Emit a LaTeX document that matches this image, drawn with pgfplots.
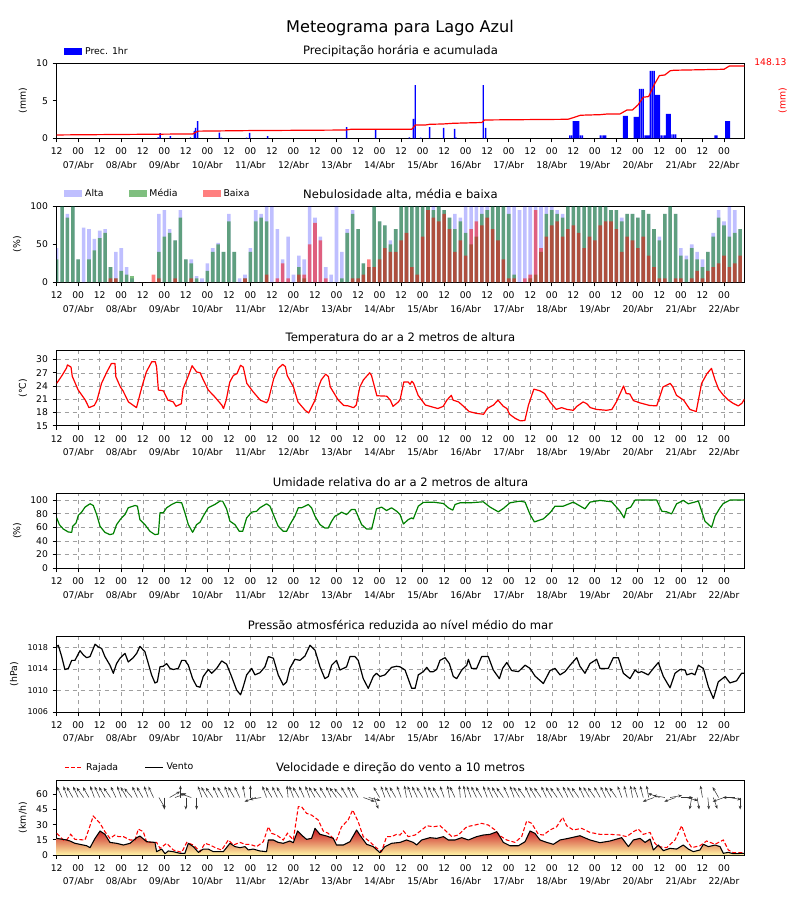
\documentclass[border=0pt]{standalone}
\usepackage{fontspec}
\setmainfont{DejaVu Sans}
\usepackage{pgfplots}
\usepackage{pgfplotstable}
\pgfplotsset{compat=1.18}
\usetikzlibrary{arrows.meta}

\definecolor{mgreen}{rgb}{0,0.5,0}
\newcommand{\tfont}{\fontsize{6.9}{10.1}\selectfont}
\newcommand{\lfont}{\fontsize{7}{8}\selectfont}

\pgfplotsset{
  meteo/.style={
    scale only axis, width=515.7pt, height=56.25pt,
    anchor=south west,
    xmin=0, xmax=383.3,
    xtick={0,12,...,372},
    xticklabels={12,{00\\07/Abr},12,{00\\08/Abr},12,{00\\09/Abr},12,{00\\10/Abr},
      12,{00\\11/Abr},12,{00\\12/Abr},12,{00\\13/Abr},12,{00\\14/Abr},
      12,{00\\15/Abr},12,{00\\16/Abr},12,{00\\17/Abr},12,{00\\18/Abr},
      12,{00\\19/Abr},12,{00\\20/Abr},12,{00\\21/Abr},12,{00\\22/Abr}},
    tick pos=left, tick align=outside,
    major tick length=3pt,
    axis line style={line width=0.6pt},
    every tick/.style={black, line width=0.6pt},
    tick label style={font=\tfont},
    xticklabel style={align=center, anchor=north, inner sep=1.5pt, yshift=-2.5pt},
    label style={font=\lfont},
    title style={font=\fontsize{8.7}{10}\selectfont, yshift=-4.5pt},
    /pgf/number format/assume math mode=true,
    /pgf/number format/1000 sep={},
    legend style={draw=none, fill=none, font=\lfont,
      at={(axis description cs:0.009,1.0)}, anchor=south west,
      inner sep=1pt, yshift=2pt},
  },
  gridded/.style={grid=major, grid style={dashed, gray!75, line width=0.4pt}},
  rectleg/.style={legend image code/.code={\fill[##1] (0pt,-2.6pt) rectangle (13.5pt,2.6pt);}},
  lineleg/.style={legend image code/.code={\draw[##1] (0pt,0pt) -- (13.5pt,0pt);}},
}

% precipitacao horaria (mm)
\pgfplotstableread{
h mm
56.6 0.13
57.7 0.67
63.4 0.3
74.6 0.13
76.7 0.98
77.4 1.38
78.6 2.3
90.7 0.76
91.8 0.1
105.9 0.1
107.6 0.71
117.6 0.3
161.6 1.5
177.8 1.2
196.6 0.13
198.8 2.58
199.9 7.1
202.9 0.1
207.9 1.47
215.7 1.38
221.8 1.24
222.7 0.1
237.8 7.1
239.1 1.38
286 0.4
287 0.4
288 2.3
289 2.3
290 2.3
291 2.3
292 0.4
293 0.4
303 0.4
304 0.4
305 0.4
306 0.4
316 2.98
317 2.98
318 2.98
322 2.84
323 2.84
324 2.84
325 6.58
326 6.58
327 6.58
328 0.4
329 0.4
330 0.4
331 8.98
332 8.98
333 8.98
334 5.78
335 5.78
336 5.78
337 0.4
338 0.4
339 0.4
340 3.24
341 3.24
342 3.24
343 0.53
344 0.53
345 0.53
367 0.4
368 0.4
373 2.3
374 2.3
375 2.3
}\prec

% precipitacao acumulada (mm)
\pgfplotstableread{
h acc
0 6.8
76 8.9
77 11.5
79 14.6
106 15.7
161 16.9
164 18.4
198 18.4
200 27.4
206 27.4
208 28.7
215 29.2
221 30.7
237 32.3
238.5 37.5
285 38.9
288 42.3
292 47.2
303 48.4
307 49.8
314 49.8
318 58.1
321 58.1
324 68.2
327 84.1
330 85.5
333 109.1
336 128.5
339 129.7
342 138.3
344 139.4
372 141.4
375 148.13
383.3 148.13
}\acum

% nebulosidade (%)
\pgfplotstableread{
h A M B
0 45 30 0
3 100 100 0
6 90 85 0
9 100 100 0
12 30 30 0
15 72 0 0
18 70 30 0
21 57 42 0
24 68 58 0
27 70 65 0
30 20 20 5
33 40 5 5
36 45 15 0
39 20 10 0
42 5 8 0
45 0 0 0
48 0 0 0
51 0 0 0
54 0 0 10
57 90 40 5
60 95 60 0
63 70 65 0
66 55 55 5
69 95 85 0
72 30 30 0
75 30 25 5
78 8 5 0
81 5 0 0
84 25 15 0
87 45 40 0
90 52 50 0
93 40 40 0
96 90 80 0
99 40 40 0
102 5 0 0
105 10 5 5
108 45 40 0
111 95 80 0
114 90 85 0
117 100 80 10
120 100 0 0
123 70 0 5
126 30 0 25
129 60 0 5
132 10 0 0
135 35 20 10
138 30 5 10
141 100 0 50
144 85 0 78
147 60 0 55
150 20 0 5
153 10 0 0
156 100 0 0
159 40 5 0
162 70 65 0
165 95 90 5
168 70 70 5
171 25 25 10
174 20 20 30
177 100 100 20
180 80 80 30
183 75 75 45
186 55 50 40
189 70 70 40
192 100 100 55
195 100 100 65
198 100 100 20
201 100 100 10
204 100 100 60
207 100 100 95
210 100 95 85
213 100 100 80
216 95 95 90
219 85 85 70
222 90 70 40
225 85 80 55
228 100 65 35
231 100 50 70
234 100 60 80
237 100 90 75
240 100 95 85
243 100 100 70
246 100 100 55
249 100 100 30
252 100 90 5
255 100 10 5
258 95 0 0
261 100 0 5
264 100 5 10
267 100 10 95
270 100 40 45
273 100 90 60
276 100 95 75
279 95 90 80
282 90 85 60
285 100 100 70
288 100 100 75
291 100 100 65
294 100 100 45
297 100 100 60
300 100 100 55
303 100 100 75
306 100 100 80
309 95 95 80
312 95 95 70
315 85 80 40
318 90 90 60
321 90 90 55
324 85 85 45
327 95 95 60
330 90 90 35
333 70 70 20
336 60 55 5
339 90 90 5
342 100 100 0
345 90 90 5
348 45 35 5
351 35 30 0
354 50 45 5
357 40 30 15
360 30 20 5
363 40 40 15
366 65 60 20
369 95 85 25
372 80 75 35
375 100 60 20
378 95 65 25
381 70 70 35
}\cloud

% temperatura (C)
\pgfplotstableread{
h T
0 24.6
3 26.4
5.5 28.1
6 28.8
8 28.3
8.7 26.2
12 23.1
16 20.8
18 19.1
21 19.6
22.5 20.8
25 24.6
28 27.2
30.5 29.1
32.5 29.1
33 26.1
35.5 23.8
37 22.9
40 20.4
44.5 19.1
47.5 23.8
50 27.2
53 29.5
55 29.5
55.7 28.3
56.7 23.1
59.5 22.9
62 20.8
65 20.4
66.5 19.4
69.5 20.0
70.5 23.4
73.5 26.4
75.5 28.6
78 27.2
80 27.0
81.5 25.6
84.5 23.1
88 21.6
92 19.7
93 18.9
94.5 20.8
96.5 24.9
98.5 26.4
100.5 26.8
102.5 28.7
104 28.3
106 24.6
109.5 22.7
113.5 20.8
117 20.2
118 20.8
121 25.7
123.5 28.0
126 28.9
127.5 28.4
128.5 26.4
132 23.8
134.5 20.4
138.5 18.5
140.5 17.9
144 20.8
146 23.8
147.5 25.4
150 26.7
151.5 26.1
152.5 23.8
157 20.8
160 19.6
162.5 19.5
165.5 19.1
167 19.7
169 23.8
171 25.4
174.5 27.0
175.5 26.4
178.5 21.8
184 21.7
186 20.8
187.5 19.4
190.5 20.4
191.5 21.0
193.5 24.9
196 24.9
197 24.4
198 25.1
199 24.6
201.5 21.9
205.5 19.7
212.5 18.9
215.5 19.4
217.5 20.8
220 21.9
221 20.8
224 20.4
226 19.7
230 18.2
234 17.8
238 17.6
240 18.9
243.5 19.7
246 20.8
249 19.4
251 18.9
252.5 17.6
255.5 16.7
258.5 16.1
261 16.2
263 19.7
266 23.3
269.5 22.9
272 22.3
275 20.4
278.5 18.7
281.5 19.1
284.5 18.7
288 18.5
290 19.4
293.5 20.4
295.5 20.0
297.5 19.1
301 18.7
306.5 18.5
309.5 18.7
312 20.4
316 24.0
317.5 22.3
319.5 22.2
321.5 20.7
325 20.2
330.5 19.6
334.5 19.5
338 23.8
340 24.2
342 24.6
343.5 23.8
345.5 21.9
349.5 20.8
353 18.7
356.5 18.2
359.5 24.6
362.5 26.8
365 28.0
367 25.4
369 23.3
371.5 22.0
374.5 20.8
377 20.1
380 19.5
382 20.1
383.3 21.0
}\temp

% umidade relativa (%)
\pgfplotstableread{
h U
0 73.9
1.5 64
3.7 57.6
6.5 53.2
8.4 52.7
8.9 61.6
10.8 66.5
12.1 77.8
13.9 82.3
15.8 89.7
18.6 94.6
20.4 92.1
22.3 78.8
24.2 61.6
26.9 52.7
29.7 49.3
31.6 50.7
33.4 64
35.7 72.4
38.1 78.8
39.9 88.7
43.7 92.1
45 91.1
46.4 71.4
49.2 64
52 54.2
54.8 49.3
56.7 50.2
57.6 81.3
59.4 81.3
61.3 88.7
64.1 93.6
66.9 97
69.7 96
71.5 81.3
73.4 64
75.8 52.7
78 64
79.9 67.5
81.7 76.4
84.5 88.7
88.2 93.6
91 98.5
92.5 98.5
94.7 87.2
96.6 69
99.4 64
101.8 54.2
103.7 54.2
105.9 73.9
108.7 82.3
111.5 83.7
113.3 88.7
117 94.6
118.9 91.1
120.8 78.8
123.5 61.6
126.3 54.2
128.2 54.2
130 64
132.8 76.4
134.7 88.7
136.5 88.7
140.3 93.6
142.1 88.7
144 76.4
146.8 64
149.5 59.1
151.4 59.1
153.3 69
155.1 76.4
157 78.8
158.8 82.3
161.6 78.8
164.4 86.2
166.3 86.2
167.2 81.3
170 64
172.8 57.6
175.6 57.6
178.3 87.2
181.1 89.7
183.9 84.7
186.7 88.7
189.5 83.7
191.4 78.8
193.3 65
196 71.4
197.9 73.9
198.8 72.4
201.6 91.1
204.4 96.6
210 97
215.6 95
218.3 88.7
220.8 85.2
222.1 93.6
224.8 96
230.4 96
237.8 97.5
241.6 89.7
246.2 82.8
249 87.7
252.7 96
258.3 98.5
261.1 97
263.9 78.8
266.3 68
271.3 72.4
275 81.3
277.8 91.1
282.4 91.1
288 97
294.5 87.2
297.3 97
302.9 99.5
309.4 97.5
314 83.7
316.3 73.9
317.7 87.2
320 89.7
322.4 100
334.5 100
337.3 83.7
340.0 82.8
342.8 79.8
345.6 94.6
349.3 99.5
352.1 94.6
357.7 98.5
361.4 69
365.1 60
367 76.4
369.8 88.7
371.6 95
375.3 100
383.3 100
}\umid

% pressao (hPa)
\pgfplotstableread{
h P
0 1018.2
0.9 1018.4
2.8 1016.3
4.6 1013.9
6.5 1014.1
8.4 1015.6
10.2 1015.6
13 1017.4
14.9 1016.6
16.7 1016.1
18.6 1016.3
21.4 1018.6
23.2 1018.1
25.1 1017.8
26.9 1016.3
29.7 1014.7
31.6 1013.2
33.4 1015
35.3 1016
38.1 1016.9
39.9 1015.3
42.7 1016.1
44.6 1016.9
46.4 1018.2
49.2 1017.2
51.1 1015
52.9 1012.9
54.8 1011.4
56.1 1011.6
57.6 1014.4
59.4 1014.5
61.3 1015
63.2 1014.1
65 1013.9
67.8 1014.1
69.7 1015.6
71.5 1015.6
73.4 1014.7
75.8 1012.2
78 1010.8
79.9 1010.6
81.7 1012.6
84.5 1013.9
86.4 1013.2
89.2 1014.1
92 1015.5
94.7 1014.9
97.5 1012.6
100.3 1010.1
102.5 1009.2
104 1010.7
105.9 1012.9
108.7 1014.1
110.5 1012.9
113.3 1013.3
116.1 1014.4
118 1016.3
120.8 1016
123.5 1012.9
126.3 1011
128.2 1011.6
130 1014.1
132.8 1015.8
135.6 1015.6
138.4 1016.4
141.2 1018.4
144 1017.5
146.8 1014.4
149.5 1012.2
151.4 1012.6
153.3 1014.7
156 1015.6
157.9 1013.8
159.8 1014.1
161.6 1014.4
163.5 1016.3
166.3 1016.3
168.1 1015.6
170.9 1012.2
173.7 1010.4
176.5 1012.6
178.3 1013.2
180.2 1012.6
183 1012.9
186.7 1014.3
189.5 1014.5
191.4 1014.4
194.2 1013.8
197.9 1010.4
199.8 1010.4
201.6 1012.9
204.4 1013.5
206.3 1014.3
208.1 1013.5
210 1013.5
211.8 1013.9
213.7 1015.6
216.5 1016.1
218.9 1015
221.1 1012.6
223 1012.2
225.8 1013.8
228.6 1014.7
229.5 1015.8
231.3 1014.1
234.1 1014.1
236.9 1016.3
240.6 1016.3
243.4 1013.8
246.8 1012.2
248.6 1014.1
250.9 1015.2
253.6 1013.7
257.4 1013.5
261.1 1014.7
263.9 1014.1
266.6 1012.7
271.3 1011.3
275 1013.7
277.8 1014.1
280.6 1012.9
283.4 1013.5
286.2 1014.7
289.9 1016.1
291.7 1014.5
294.5 1013.2
297.3 1015
301 1015.8
302.9 1014.1
307.5 1014.1
310.3 1016.1
313.1 1016.1
315.9 1013.2
319.6 1012.2
322.4 1013.8
324.2 1013.3
326.1 1013.5
329.8 1012.9
332.6 1014.1
335.4 1015.2
338.2 1012.6
341.9 1010.5
344.7 1013.2
347.5 1013.9
350.3 1013.8
351.2 1012.9
354 1013.2
355.8 1012.9
357.7 1014.7
360.5 1014.1
363.3 1010.7
366.1 1008.5
368.8 1011.6
372.6 1012.6
375.3 1011.4
379 1011.8
381.8 1013.2
383.3 1013.2
}\pres

% vento medio (km/h)
\pgfplotstableread{
h V
0 16.5
5.6 14.9
7.4 13.9
10.2 11.6
16.7 9.2
18.6 7.3
21.4 16.5
24.2 23.8
26.9 20.5
29.7 12.5
33.4 11.6
37.2 9.9
40.9 11.6
44.6 17.2
46.4 18.8
50.2 13.2
54.8 12.5
55.7 3.3
58.5 5.9
60.4 1.3
62.2 4
65 3.3
68.7 1.7
71.5 1.7
73.4 11.6
76.2 8.3
79 2.6
81.7 5.9
84.5 5.9
87.3 3.3
92.9 3.3
96.6 11.6
99.4 8.3
102.2 7.3
105 8.3
106.8 5
109.6 5.9
113.3 4
117 3.3
118 14.9
120.8 14.9
123.5 12.5
126.3 11.6
130 13.9
131.9 12.2
134.3 23.8
136.5 19.8
139.3 15.5
142.1 16.5
144 26.4
146.8 20.5
150.5 18.8
154.2 16.5
156 9.9
159.8 9.9
163.5 13.2
167.2 24.8
169 19.8
172.8 10.6
176.5 8.3
180.2 2.3
183 8.3
186.7 11.6
191.4 12.5
195.1 14.9
198.8 12.5
200.7 9.9
203.5 14.9
208.1 17.2
211.8 16.5
215.6 18.2
218.3 14.9
222.1 14.9
225.8 17.2
229.5 14.9
234.1 18.2
237.8 19.8
241.6 20.5
245.3 23.1
247.1 18.2
249 12.5
252.7 9.2
257.4 9.2
261.1 13.2
263.9 23.8
266.6 21.5
269.4 14.9
273.2 12.5
276.9 10.6
280.6 14.9
285.2 16.5
291.7 19.1
297.3 14.9
302.9 12.2
308.5 13.9
315 17.2
318.7 8.3
321.5 14.9
325.2 16.5
328 12.5
330.8 15.8
332.6 5
335.4 9.9
338.2 4.3
341.9 6.6
345.6 5.9
349.3 9.9
352.1 5.9
354.9 3.3
358.6 5
360.5 10.6
363.3 8.3
367 9.9
369.8 8.3
371.6 1.7
374.4 2.6
377.2 1.3
383.3 1.7
}\vento

% rajada (km/h)
\pgfplotstableread{
h R
0 21.5
1.9 18.2
3.7 14.9
5.6 14.9
7.8 20.5
10.2 15.5
15.8 14.9
17.6 23.8
20.4 38.6
24.2 31.4
26.9 23.1
29.7 16.5
32.5 19.8
34.4 18.2
37.2 18.2
40.9 14.9
43.7 14.9
45.5 25.7
48.3 23.1
50.2 12.5
55.7 12.5
57.6 6.6
61.3 11.6
65 5
69.7 2.6
72.5 12.5
76.2 9.9
79.9 3.3
82.7 11.6
85.5 9.9
89.2 6.6
92 5
95.7 14.9
98.5 9.9
102.2 12.5
105 10.6
107.7 10.6
111.5 8.3
115.2 13.2
118 28
119.8 21.5
122.6 19.8
126.3 14.9
128.6 21.5
131.9 14.9
134.7 47.9
136.5 47.9
139.3 41.3
142.1 39.6
145.8 34.7
148.6 23.8
151.4 21.5
154.2 16.5
156 14.9
158.8 28
162.5 34.7
165 44.6
168.1 33
170.9 18.2
174.6 13.2
177.4 8.3
181.1 3.3
183.9 18.2
186.7 18.2
189.5 20.5
191.4 19.8
193.3 23.8
196 18.2
199.8 19.8
203.5 24.8
206.3 29
210 28
213.7 29
217.4 23.1
220.2 18.2
223.9 19.8
228.6 28
233.2 29.7
236.9 31.4
240.6 29.7
244.4 24.8
247.1 19.1
250.9 14.9
255.5 12.5
259.2 18.2
262 33.7
264.8 31.4
268.5 20.5
271.3 19.8
275 24.8
278.7 28
282.1 37.3
284.3 29
288 24.8
292.7 26.4
297.3 22.4
302.9 20.5
308.5 20.5
314 19.8
317.7 18.2
321.5 23.1
324.2 25.7
327 20.5
330.8 22.4
333.5 11.6
335.4 8.3
340 7.3
344.7 14.9
348.4 29
351.2 14.9
354 7.3
358.6 9.2
362.3 13.9
367 10.6
371.6 14.9
374.4 5
377.2 2.3
383.3 2.3
}\rajada

% direcao do vento (vetores unitarios)
\pgfplotstableread{
h y u v
0 57 -3.35 10.31
3 57 -2.83 10.78
6 57 -2.29 11.18
9 57 -3.35 10.31
12 57 -2.83 10.78
15 57 -3.84 9.75
18 57 -3.35 10.31
21 57 -2.29 11.18
24 57 -2.83 10.78
27 57 -3.35 10.31
30 57 -3.84 9.75
33 57 -2.83 10.78
36 57 -2.29 11.18
39 57 -3.35 10.31
42 57 -4.30 9.12
45 57 -2.83 10.78
48 57 -3.35 10.31
51 57 -2.29 11.18
54 57 -2.83 10.78
57 57 3.35 -10.31
60 57 0 -11.9
63 57 5.79 5.95
66 57 6.29 4.07
69 57 0 11.9
72 57 0 -11.9
75 57 -6.29 4.07
78 57 0 -11.9
81 57 -2.29 11.18
84 57 -3.35 10.31
87 57 -3.84 9.75
90 57 -2.83 10.78
93 57 -3.35 10.31
96 57 -2.29 11.18
99 57 -3.35 10.31
102 57 -2.83 10.78
105 57 -1.16 11.72
108 57 0 11.9
111 57 -6.29 -4.07
114 57 -6.59 -2.07
117 57 -2.29 11.18
120 57 -3.35 10.31
123 57 -2.83 10.78
126 57 -3.35 10.31
129 57 -0.58 11.85
132 57 -2.29 11.18
135 57 -3.35 10.31
138 57 -2.83 10.78
141 57 -2.29 11.18
144 57 -3.35 10.31
147 57 -3.84 9.75
150 57 -3.35 10.31
153 57 -2.83 10.78
156 57 -3.84 9.75
159 57 -4.30 9.12
162 57 -3.35 10.31
165 57 -2.83 10.78
168 57 -3.35 10.31
171 57 6.29 -4.07
174 57 6.46 -3.08
177 57 2.29 -11.18
180 57 -3.35 10.31
183 57 -2.29 11.18
186 57 -2.83 10.78
189 57 -3.35 10.31
192 57 -2.29 11.18
195 57 -1.16 11.72
198 57 -2.29 11.18
201 57 -2.83 10.78
204 57 -3.35 10.31
207 57 -2.29 11.18
210 57 -2.83 10.78
213 57 -3.35 10.31
216 57 -2.29 11.18
219 57 -1.16 11.72
222 57 -2.83 10.78
225 57 -0.58 11.85
228 57 -1.16 11.72
231 57 -2.29 11.18
234 57 -2.83 10.78
237 57 -3.35 10.31
240 57 -2.29 11.18
243 57 -2.83 10.78
246 57 -3.35 10.31
249 57 -3.84 9.75
252 57 -2.83 10.78
255 57 -2.29 11.18
258 57 -3.35 10.31
261 57 -3.84 9.75
264 57 -2.83 10.78
267 57 -3.35 10.31
270 57 -3.84 9.75
273 57 -2.83 10.78
276 57 -3.35 10.31
279 57 -3.84 9.75
282 57 -3.35 10.31
285 57 -2.83 10.78
288 57 -3.35 10.31
291 57 -3.84 9.75
294 57 -2.83 10.78
297 57 -3.35 10.31
300 57 -3.84 9.75
303 57 -3.35 10.31
306 57 -2.83 10.78
309 57 -3.35 10.31
312 57 -3.84 9.75
315 57 -2.29 11.18
318 57 -1.73 11.49
321 57 -1.16 11.72
324 57 -2.29 11.18
327 57 -1.73 11.49
330 57 -1.16 11.72
333 57 -6.29 -4.07
336 57 -6.29 4.07
339 57 -6.59 2.07
342 57 6.59 2.07
345 57 -6.29 -4.07
348 57 6.69 0
351 57 6.46 -3.08
354 57 -1.16 -11.72
357 57 1.16 -11.72
360 57 -1.16 11.72
363 57 0.58 -11.85
366 57 2.29 -11.18
369 57 -3.35 10.31
372 57 -6.29 -4.07
375 57 6.59 -2.07
378 57 -6.69 0
381 57 0 -11.9
}\dirv

\begin{document}
\begin{tikzpicture}
\path[use as bounding box] (0,0) rectangle (600pt,-675pt);
\node[font=\fontsize{12.1}{14}\selectfont] at (300pt,-20.8pt) {Meteograma para Lago Azul};

% ---- precipitacao
\begin{axis}[meteo, at={(42.5pt,-103.7pt)},
  ymin=0, ymax=10, ytick={0,5,10}, ylabel={(mm)},
  title={Precipitação horária e acumulada}]
\addplot[ybar, bar width=0.8, bar shift=0pt, fill=blue, draw=none, rectleg]
  table[x=h, y=mm] {\prec};
\legend{Prec. 1hr}
\end{axis}
\begin{axis}[scale only axis, width=515.7pt, height=56.25pt,
  at={(42.5pt,-103.7pt)}, anchor=south west,
  xmin=0, xmax=383.3, ymin=0, ymax=153.7,
  axis x line=none, axis y line*=right,
  axis line style={line width=0.6pt},
  ytick={148.13}, yticklabels={148.13}, major tick length=0pt,
  yticklabel style={font=\tfont, red, xshift=4pt, yshift=3pt},
  ylabel={(mm)},
  ylabel style={font=\lfont, red, at={(axis description cs:1.056,0.5)}, anchor=center}]
\addplot[red, line width=0.9pt, line join=round] table[x=h, y=acc] {\acum};
\end{axis}

% ---- nebulosidade
\begin{axis}[meteo, at={(42.5pt,-211.7pt)}, height=57pt,
  ymin=0, ymax=100, ytick={0,50,100}, ylabel={(\%)},
  title={Nebulosidade alta, média e baixa},
  legend columns=3,
  legend style={yshift=0.5pt, /tikz/every even column/.append style={column sep=17pt}}]
\addplot[ybar, bar width=2.0, bar shift=0pt, fill=blue, fill opacity=0.25, draw=none, rectleg]
  table[x=h, y=A] {\cloud};
\addplot[ybar, bar width=2.0, bar shift=0pt, fill=mgreen, fill opacity=0.5, draw=none, rectleg]
  table[x=h, y=M] {\cloud};
\addplot[ybar, bar width=2.0, bar shift=0pt, fill=red, fill opacity=0.5, draw=none, rectleg]
  table[x=h, y=B] {\cloud};
\legend{Alta, Média, Baixa}
\end{axis}

% ---- temperatura
\begin{axis}[meteo, gridded, at={(42.5pt,-319.3pt)},
  ymin=15, ymax=32, ytick={15,18,...,30}, ylabel={(°C)},
  title={Temperatura do ar a 2 metros de altura}]
\addplot[red, line width=0.9pt, line join=round] table[x=h, y=T] {\temp};
\end{axis}

% ---- umidade
\begin{axis}[meteo, gridded, at={(42.5pt,-426.2pt)},
  ymin=0, ymax=110, ytick={0,20,...,100}, ylabel={(\%)},
  title={Umidade relativa do ar a 2 metros de altura}]
\addplot[mgreen, line width=0.9pt, line join=round] table[x=h, y=U] {\umid};
\end{axis}

% ---- pressao
\begin{axis}[meteo, gridded, at={(42.5pt,-534pt)}, height=56.5pt,
  ymin=1006, ymax=1020, ytick={1006,1010,1014,1018}, ylabel={(hPa)},
  yticklabel style={font=\fontsize{6}{7}\selectfont},
  title={Pressão atmosférica reduzida ao nível médio do mar}]
\addplot[black, line width=0.9pt, line join=round] table[x=h, y=P] {\pres};
\end{axis}

% ---- vento
\begin{axis}[meteo, at={(42.5pt,-641.25pt)}, height=56pt,
  ymin=0, ymax=74, ytick={0,15,...,60}, ylabel={(km/h)},
  title={Velocidade e direção do vento a 10 metros},
  legend columns=2,
  legend style={yshift=1pt, /tikz/every even column/.append style={column sep=18pt}}]
\addplot[forget plot, quiver={u=\thisrow{u}, v=\thisrow{v}},
  -{Stealth[length=2.8pt, width=2.2pt]}, black!80, line width=0.4pt]
  table[x=h, y=y] {\dirv};
\addplot[forget plot, draw=none,
  bottom color={rgb,255:red,255;green,244;blue,165},
  middle color={rgb,255:red,253;green,165;blue,65},
  top color={rgb,255:red,200;green,20;blue,30}]
  table[x=h, y=V] {\vento} \closedcycle;
\addplot[red, line width=0.8pt, dash pattern=on 3pt off 1.6pt, lineleg]
  table[x=h, y=R] {\rajada};
\addplot[black, line width=0.8pt, line join=round, lineleg]
  table[x=h, y=V] {\vento};
\legend{Rajada, Vento}
\end{axis}
\end{tikzpicture}
\end{document}
